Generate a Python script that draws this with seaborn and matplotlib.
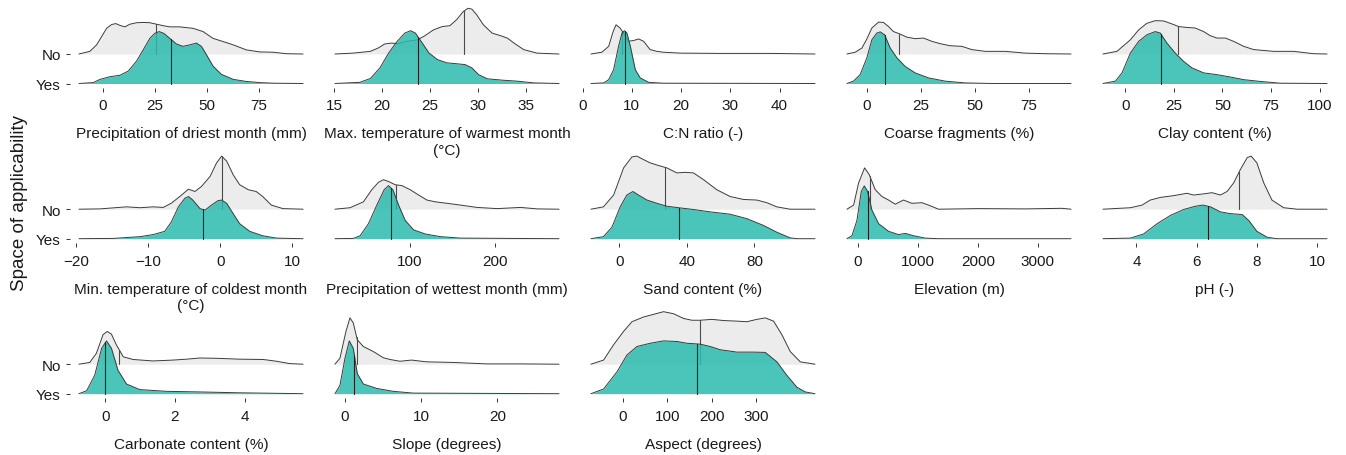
import numpy as np
import matplotlib
matplotlib.use('Agg')
import matplotlib.pyplot as plt
import seaborn as sns

# ridge outlines: (x value, height above the ridge baseline in row units)
prec_dry_no = [(-11.5, 0), (-6.25, 0.09), (-3, 0.31), (-0.6, 0.59), (1.8, 0.87), (4.2, 1.0), (6.25, 1.03),
               (8.2, 0.97), (10.6, 0.92), (13, 1.01), (16.2, 1.06), (19.4, 1.07), (22.6, 1.06), (25.8, 1.01),
               (29, 0.96), (32.2, 0.92), (37, 0.92), (43.4, 0.87), (48.2, 0.76), (53, 0.53), (57.9, 0.42),
               (62.7, 0.31), (69, 0.14), (75.5, 0.07), (81.9, 0.06), (88.3, 0.01), (96.3, 0)]
prec_dry_yes = [(-11.5, 0), (-4.6, 0.03), (-1.4, 0.14), (3.4, 0.23), (8.2, 0.28), (12.2, 0.42), (16.2, 0.76),
                (19.4, 1.14), (22.6, 1.53), (25, 1.7), (27.1, 1.76), (29.3, 1.7), (32.2, 1.53), (35.4, 1.34),
                (38.6, 1.26), (41.8, 1.31), (45, 1.37), (47.4, 1.26), (49.8, 0.98), (53, 0.59), (57, 0.31),
                (62.7, 0.14), (69, 0.07), (75.5, 0.03), (81.9, 0.01), (96.3, 0)]

tmax_no = [(15.1, 0), (17.0, 0.03), (18.8, 0.09), (19.6, 0.2), (20.3, 0.34), (21.0, 0.37), (21.7, 0.35),
           (22.6, 0.43), (23.7, 0.48), (24.4, 0.6), (25.4, 0.82), (26.3, 0.93), (27.1, 0.96), (27.8, 1.16),
           (28.5, 1.44), (29.0, 1.55), (29.4, 1.52), (29.9, 1.33), (30.6, 0.99), (31.5, 0.71), (32.4, 0.62),
           (33.1, 0.54), (33.8, 0.37), (34.8, 0.15), (36.2, 0.03), (38.5, 0)]
tmax_yes = [(15.1, 0), (17.7, 0.04), (18.8, 0.17), (19.8, 0.53), (20.7, 1.03), (21.6, 1.43), (22.4, 1.71),
            (23.0, 1.79), (23.5, 1.71), (24.2, 1.38), (24.9, 1.04), (25.8, 0.81), (26.8, 0.7), (27.8, 0.67),
            (28.7, 0.64), (29.4, 0.53), (30.1, 0.3), (31.0, 0.16), (32.7, 0.11), (34.1, 0.08), (35.9, 0.02),
            (38.5, 0)]

cn_no = [(1.7, 0), (3.9, 0.06), (5.3, 0.26), (6.2, 0.76), (6.8, 0.99), (7.6, 0.88), (8.3, 0.71), (9.3, 0.43),
         (10.4, 0.46), (11.4, 0.51), (12.4, 0.43), (13.7, 0.15), (15.1, 0.09), (16.4, 0.06), (19.8, 0.03),
         (27.9, 0.02), (38.1, 0.02), (47.2, 0)]
cn_yes = [(1.7, 0), (4.3, 0.02), (5.3, 0.13), (6.3, 0.47), (7.3, 1.26), (8.0, 1.71), (8.5, 1.79), (9.0, 1.71),
          (9.7, 1.26), (10.7, 0.47), (11.7, 0.19), (13.4, 0.04), (16.4, 0.01), (47.2, 0)]

coarse_no = [(-9.2, 0), (-5.4, 0.06), (-2.3, 0.2), (0, 0.51), (2.3, 0.88), (5.4, 1.08), (7.7, 1.07), (10, 0.93),
             (12.3, 0.76), (14.9, 0.69), (18.5, 0.57), (22.3, 0.52), (26.2, 0.54), (30, 0.43), (33.9, 0.35),
             (38.5, 0.28), (43.9, 0.26), (48.5, 0.15), (54.7, 0.09), (63.9, 0.09), (73.2, 0.03), (82.4, 0.01),
             (94.4, 0)]
coarse_yes = [(-9.2, 0), (-6.2, 0.08), (-3.1, 0.3), (0, 0.87), (2.3, 1.48), (4.6, 1.71), (6.2, 1.75), (8.2, 1.65),
              (10.8, 1.2), (13.9, 0.87), (17.7, 0.58), (22.3, 0.36), (28.5, 0.19), (36.2, 0.08), (45.4, 0.02),
              (57.8, 0), (94.4, 0)]

clay_no = [(-11.5, 0), (-4.3, 0.09), (2.6, 0.48), (6.9, 0.82), (11.1, 1.04), (15.4, 1.13), (19.7, 1.12),
           (24, 1.02), (27.4, 0.93), (31.7, 0.9), (36, 0.88), (40.3, 0.76), (43.7, 0.62), (47.2, 0.54),
           (51.5, 0.54), (55.7, 0.43), (60.9, 0.26), (66, 0.15), (76.3, 0.09), (86.6, 0.09), (96.9, 0.01),
           (103.8, 0)]
clay_yes = [(-11.5, 0), (-5.1, 0.08), (-1.7, 0.36), (2.6, 1.03), (6.9, 1.43), (11.1, 1.65), (15.4, 1.76),
            (18, 1.71), (21.4, 1.37), (25.7, 1.03), (30, 0.75), (34.3, 0.53), (40.3, 0.36), (47.2, 0.3),
            (54, 0.22), (60.9, 0.13), (69.5, 0.07), (79.8, 0.01), (103.8, 0)]

tmin_no = [(-19.6, 0), (-16.7, 0.01), (-13, 0.08), (-11.1, 0.05), (-9.3, 0.08), (-7.9, 0.06), (-6.8, 0.2),
           (-5.6, 0.43), (-4.4, 0.68), (-3.5, 0.6), (-2.6, 0.77), (-1.4, 1.11), (-0.5, 1.57), (0.2, 1.8),
           (0.9, 1.63), (1.8, 1.17), (2.7, 0.83), (3.9, 0.66), (5.0, 0.6), (5.9, 0.43), (7.1, 0.14),
           (8.7, 0.02), (11.5, 0)]
tmin_yes = [(-19.6, 0), (-14.8, 0.01), (-11.1, 0.07), (-9.3, 0.14), (-7.7, 0.25), (-6.8, 0.56), (-5.8, 1.08),
            (-4.9, 1.37), (-4.4, 1.43), (-3.8, 1.31), (-2.8, 1.02), (-2.1, 0.97), (-1.2, 1.14), (-0.3, 1.29),
            (0.2, 1.31), (0.9, 1.2), (1.8, 0.85), (2.7, 0.51), (4.1, 0.25), (5.9, 0.1), (7.8, 0.02), (11.5, 0)]

prec_wet_no = [(12.5, 0), (30.2, 0.05), (45.9, 0.25), (55.7, 0.66), (63.5, 0.91), (69.4, 1.0), (75.3, 0.94),
               (83.1, 0.83), (91, 0.8), (100.8, 0.66), (110.6, 0.48), (120.4, 0.31), (130.2, 0.25),
               (143.9, 0.2), (159.6, 0.14), (179.2, 0.06), (202.7, 0.02), (230.2, 0.06), (249.8, 0.01),
               (275.3, 0)]
prec_wet_yes = [(12.5, 0), (34.1, 0.01), (42, 0.1), (51.8, 0.51), (61.6, 1.14), (70.2, 1.66), (75.3, 1.8),
                (80.4, 1.66), (87.1, 1.14), (94.9, 0.62), (104.7, 0.3), (118.4, 0.16), (136.1, 0.07),
                (159.6, 0.02), (275.3, 0)]

sand_no = [(-16.7, 0), (-9.3, 0.08), (-3.3, 0.48), (2.6, 1.4), (7.5, 1.77), (10.4, 1.8), (13.4, 1.71),
           (18.3, 1.57), (23.3, 1.48), (28.2, 1.4), (34.1, 1.23), (39, 1.25), (43.9, 1.23), (49.9, 1.0),
           (57.7, 0.66), (65.6, 0.43), (73.5, 0.33), (81.4, 0.31), (87.3, 0.22), (93.2, 0.08), (101, 0),
           (115.8, 0)]
sand_yes = [(-16.7, 0), (-9.3, 0.07), (-4.3, 0.39), (0.6, 1.08), (4.5, 1.48), (8.1, 1.6), (11.4, 1.48),
            (16.4, 1.31), (22.3, 1.2), (28.2, 1.1), (35.1, 1.05), (43.9, 0.99), (53.8, 0.91), (65.6, 0.83),
            (75.5, 0.68), (85.3, 0.45), (93.2, 0.22), (101, 0.03), (105, 0), (115.8, 0)]

elev_no = [(-183, 0), (-72, 0.14), (11, 0.89), (111, 1.4), (189, 1.17), (289, 0.66), (400, 0.43), (511, 0.31),
           (622, 0.17), (761, 0.31), (900, 0.2), (1067, 0.22), (1178, 0.14), (1344, 0), (2011, 0.02),
           (2789, 0.01), (3400, 0.03), (3555, 0)]
elev_yes = [(-183, 0), (-100, 0.1), (-17, 0.62), (56, 1.6), (106, 1.79), (161, 1.6), (233, 0.97), (344, 0.51),
            (511, 0.25), (678, 0.14), (789, 0.18), (928, 0.1), (1122, 0.02), (1344, 0), (3555, 0)]

ph_no = [(2.89, 0), (3.8, 0.05), (4.19, 0.14), (4.46, 0.31), (4.8, 0.4), (5.24, 0.46), (5.68, 0.54), (5.9, 0.48),
         (6.24, 0.52), (6.51, 0.56), (6.79, 0.48), (7.01, 0.6), (7.23, 0.89), (7.45, 1.34), (7.68, 1.75),
         (7.81, 1.8), (8.0, 1.57), (8.23, 0.89), (8.5, 0.31), (8.89, 0.05), (9.34, 0), (10.33, 0)]
ph_yes = [(2.89, 0), (3.8, 0.02), (4.24, 0.16), (4.69, 0.51), (5.13, 0.79), (5.57, 0.99), (5.96, 1.1),
          (6.21, 1.14), (6.46, 1.08), (6.79, 0.91), (7.12, 0.85), (7.51, 0.82), (7.73, 0.62), (8.0, 0.25),
          (8.34, 0.05), (8.67, 0), (10.33, 0)]

carb_no = [(-0.75, 0), (-0.44, 0.06), (-0.25, 0.37), (-0.06, 1.0), (0.06, 1.11), (0.18, 1.02), (0.32, 0.66),
           (0.52, 0.25), (0.8, 0.16), (1.37, 0.11), (1.95, 0.14), (2.33, 0.17), (2.71, 0.21), (3.19, 0.2),
           (3.86, 0.17), (4.53, 0.16), (4.91, 0.1), (5.29, 0.02), (5.67, 0)]
carb_yes = [(-0.75, 0), (-0.53, 0.1), (-0.3, 0.62), (-0.1, 1.54), (0.04, 1.79), (0.18, 1.54), (0.37, 0.79),
            (0.61, 0.33), (0.99, 0.14), (1.76, 0.08), (2.71, 0.06), (3.86, 0.03), (5.67, 0)]

slope_no = [(-1.31, 0), (-0.66, 0.2), (0.13, 1.11), (0.66, 1.57), (1.09, 1.4), (1.62, 0.83), (2.41, 0.6),
            (3.72, 0.43), (5.03, 0.22), (5.91, 0.16), (7.22, 0.1), (8.75, 0.14), (10.7, 0.08), (14.2, 0.06),
            (18.6, 0.01), (23, 0.01), (28.1, 0)]
slope_yes = [(-1.31, 0), (-0.66, 0.28), (0, 1.2), (0.57, 1.79), (1.09, 1.54), (1.62, 0.68), (2.41, 0.33),
             (4.16, 0.18), (6.35, 0.08), (8.97, 0.02), (28.1, 0)]

aspect_no = [(-71, 0), (-42.6, 0.14), (-20.2, 0.66), (2.2, 1.11), (21, 1.44), (47.1, 1.6), (69.6, 1.69),
             (92, 1.78), (114.5, 1.71), (136.9, 1.55), (155.6, 1.49), (174.3, 1.49), (200.5, 1.52),
             (226.7, 1.48), (256.6, 1.46), (279, 1.44), (301.5, 1.52), (320.2, 1.57), (338.9, 1.46),
             (357.6, 1.0), (376.3, 0.43), (398.8, 0.08), (432, 0)]
aspect_yes = [(-71, 0), (-42.6, 0.16), (-12.7, 0.74), (9.7, 1.31), (32.2, 1.6), (62.1, 1.71), (92, 1.79),
              (121.9, 1.77), (144.4, 1.71), (174.3, 1.68), (196.8, 1.6), (219.2, 1.49), (256.6, 1.41),
              (294, 1.41), (320.2, 1.4), (346.4, 1.08), (368.8, 0.62), (391.3, 0.22), (410, 0.06), (432, 0)]

labels = ['Precipitation of driest month (mm)', 'Max. temperature of warmest month\n(°C)', 'C:N ratio (-)',
          'Coarse fragments (%)', 'Clay content (%)',
          'Min. temperature of coldest month\n(°C)', 'Precipitation of wettest month (mm)', 'Sand content (%)',
          'Elevation (m)', 'pH (-)',
          'Carbonate content (%)', 'Slope (degrees)', 'Aspect (degrees)']
ridges_no = [prec_dry_no, tmax_no, cn_no, coarse_no, clay_no, tmin_no, prec_wet_no, sand_no, elev_no, ph_no,
             carb_no, slope_no, aspect_no]
ridges_yes = [prec_dry_yes, tmax_yes, cn_yes, coarse_yes, clay_yes, tmin_yes, prec_wet_yes, sand_yes, elev_yes,
              ph_yes, carb_yes, slope_yes, aspect_yes]
median_no = [25.6, 28.6, 8.0, 14.9, 27.1, 0.2, 83.5, 27.0, 200, 7.41, 0.4, 1.53, 172.8]
median_yes = [32.7, 23.8, 8.6, 8.2, 18.4, -2.4, 78.0, 35.1, 160, 6.38, 0.01, 1.23, 166.8]
xticks = [[0, 25, 50, 75], [15, 20, 25, 30, 35], [0, 10, 20, 30, 40], [0, 25, 50, 75], [0, 25, 50, 75, 100],
          [-20, -10, 0, 10], [100, 200], [0, 40, 80], [0, 1000, 2000, 3000], [4, 6, 8, 10],
          [0, 2, 4], [0, 10, 20], [0, 100, 200, 300]]
groups = ['Yes', 'No']

sns.set_theme(style='ticks')
plt.rcParams['font.family'] = ['Liberation Sans', 'DejaVu Sans']

GREY = '#ECECEC'
TEAL = '#2BBBAD'
LINE = '#3a3a3a'
TXT = '#1a1a1a'

W, H = 1346, 456
col_left = [79, 335, 591, 847, 1103]   # px, where the ridge lines start
row_yes = [84.5, 239.7, 394.7]         # px, baseline of the "Yes" ridge
unit = 29.5                            # px between the two ridge baselines

fig = plt.figure(figsize=(W / 100, H / 100), dpi=100)


def draw_ridge(ax, pts, base, fill, alpha, med, med_col, z):
    x = np.array([p[0] for p in pts])
    h = np.array([p[1] for p in pts])
    ax.fill_between(x, base, base + h, color=fill, alpha=alpha, lw=0, zorder=z)
    sns.lineplot(x=x, y=base + h, ax=ax, color=LINE, lw=0.7, zorder=z + 0.1, sort=False)
    ax.plot([med, med], [base, base + np.interp(med, x, h)], color=med_col, lw=0.8, zorder=z + 0.2)


for i, lab in enumerate(labels):
    r, c = divmod(i, 5)
    ax = fig.add_axes([(col_left[c] - 9) / W, 1 - (row_yes[r] + 4.5) / H, 242 / W, 88.5 / H])
    no, yes = ridges_no[i], ridges_yes[i]

    draw_ridge(ax, no, 2, GREY, 1.0, median_no[i], '#4a4a4a', 1)
    draw_ridge(ax, yes, 1, TEAL, 0.85, median_yes[i], '#222222', 2)

    x0, x1 = no[0][0], no[-1][0]
    pad = 0.04 * (x1 - x0)
    ax.set_xlim(x0 - pad, x1 + pad)
    ax.set_ylim(1 - 4.5 / unit, 1 + 84 / unit)
    ax.set_xticks(xticks[i])
    ax.tick_params(axis='x', bottom=True, length=3.2, width=0.7, color='#333333', pad=4.3,
                   labelsize=11, labelcolor=TXT)
    if c == 0:
        ax.set_yticks([1, 2], groups)
        ax.tick_params(axis='y', left=True, length=3.2, width=0.7, color='#333333', pad=3.5,
                       labelsize=11, labelcolor=TXT)
    else:
        ax.set_yticks([])
    ax.set_xlabel(lab, fontsize=11.1, labelpad=10, color=TXT, linespacing=1.2)
    ax.set_ylabel('')
    sns.despine(ax=ax, left=True, bottom=True)
    ax.patch.set_alpha(0)

fig.text(20 / W, 1 - 203 / H, 'Space of applicability', rotation=90, ha='center', va='center',
         fontsize=13.5, color=TXT)

fig.savefig('out.png', dpi=100)
